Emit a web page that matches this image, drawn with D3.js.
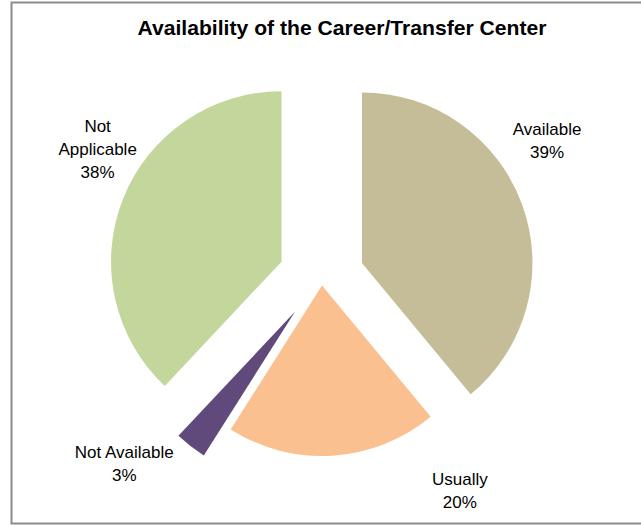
<!DOCTYPE html>
<html><head><meta charset="utf-8">
<script src="https://cdn.jsdelivr.net/npm/d3@7"></script>
<style>body{margin:0;background:#fff}svg{display:block}</style>
</head><body>
<script>
const title = "Availability of the Career/Transfer Center";
const categories = ["Available", "Usually", "Not Available", "Not Applicable"];
const values = [39, 20, 3, 38];
const colors = ["#C4BD97", "#FAC090", "#604A7B", "#C3D69B"];
// layout (style, not data)
const explode = [43, 8, 43, 43];
const labelAngle = [58.7, 147, 226.7, 299.8];
const labelRadius = [264, 254, 271, 258];
const labelLines = [["Available","39%"],["Usually","20%"],["Not Available","3%"],["Not","Applicable","38%"]];

const W = 641, H = 526;
const cx = 321.5, cy = 277.5, R = 170.5;
const svg = d3.select("body").append("svg").attr("width", W).attr("height", H);

// frame
svg.append("rect").attr("x", 11.5).attr("y", 2.5).attr("width", 660).attr("height", 521)
  .attr("fill", "#fff").attr("stroke", "#8c8c8c").attr("stroke-width", 2);

svg.append("text").attr("x", 342).attr("y", 35).attr("text-anchor", "middle")
  .attr("font-family", "Liberation Sans, Arial, sans-serif").attr("font-weight", "bold")
  .attr("font-size", 20.5).attr("textLength", 409).attr("lengthAdjust", "spacingAndGlyphs")
  .attr("fill", "#000").text(title);

const data = categories.map((c, i) => ({c, v: values[i], i}));
const pie = d3.pie().value(d => d.v).sort(null);
const arc = d3.arc().innerRadius(0).outerRadius(R);
const arcs = pie(data);

const g = svg.append("g").attr("transform", `translate(${cx},${cy})`);
g.selectAll("path").data(arcs).join("path")
  .attr("d", arc)
  .attr("fill", d => colors[d.data.i])
  .attr("transform", d => {
    const m = (d.startAngle + d.endAngle) / 2;
    const e = explode[d.data.i];
    return `translate(${Math.sin(m) * e},${-Math.cos(m) * e})`;
  });

arcs.forEach(d => {
  const i = d.data.i;
  const a = labelAngle[i] * Math.PI / 180;
  const x = Math.sin(a) * labelRadius[i], y = -Math.cos(a) * labelRadius[i];
  const lines = labelLines[i];
  const lh = 23;
  const t = g.append("text").attr("text-anchor", "middle")
    .attr("font-family", "Liberation Sans, Arial, sans-serif").attr("font-size", 17).attr("fill", "#000");
  lines.forEach((l, k) => {
    t.append("tspan").attr("x", x).attr("y", y + (k - (lines.length - 1) / 2) * lh + 6).text(l);
  });
});
</script>
</body></html>
